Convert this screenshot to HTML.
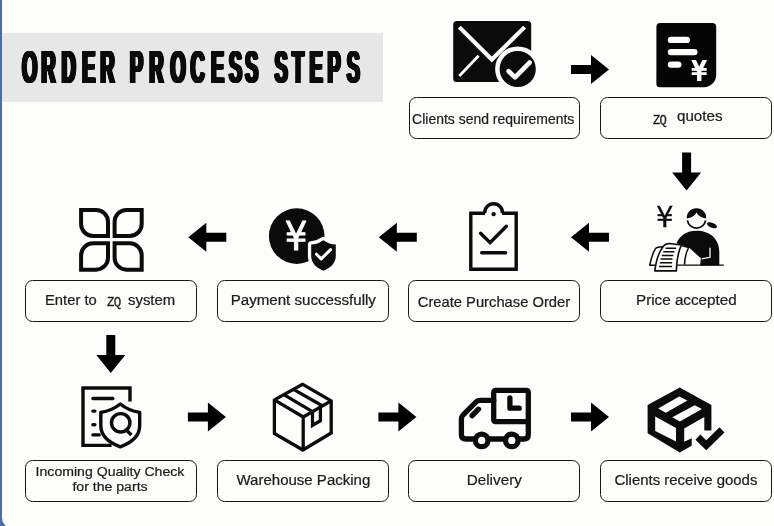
<!DOCTYPE html>
<html lang="en">
<head>
<meta charset="utf-8">
<title>Order Process Steps</title>
<style>
html,body{margin:0;padding:0;}
body{width:774px;height:526px;overflow:hidden;background:#fdfdfb;position:relative;font-family:"Liberation Sans","DejaVu Sans",sans-serif;color:#1c1c1c;}
#stage{will-change:transform;position:absolute;left:0;top:0;width:774px;height:526px;overflow:hidden;background:#4b6ea5;}
#sheet{position:absolute;left:2px;top:-20px;width:773px;height:548px;background:#fdfdfb;border-bottom-left-radius:10px;}
#titlebar{position:absolute;left:2px;top:33px;width:380.5px;height:68.5px;background:#e6e7e6;}
#title{position:absolute;left:19.5px;top:40px;height:54px;line-height:54px;margin:0;font-weight:bold;font-size:47px;white-space:nowrap;color:#0a0a0a;transform-origin:0 50%;transform:scaleX(0.42);word-spacing:-8px;text-shadow:-3.2px 0 0 #0a0a0a,-2.4px 0 0 #0a0a0a,-1.6px 0 0 #0a0a0a,-0.8px 0 0 #0a0a0a,0.8px 0 0 #0a0a0a,1.6px 0 0 #0a0a0a,2.4px 0 0 #0a0a0a,3.2px 0 0 #0a0a0a;}
.box{position:absolute;box-sizing:border-box;width:171px;height:42px;border:1.5px solid #161616;border-radius:7.5px;background:#fdfdfc;display:flex;align-items:center;justify-content:center;text-align:center;font-size:14px;line-height:16px;white-space:nowrap;-webkit-text-stroke:0.22px #1c1c1c;}
.box span.t{display:inline-block;position:relative;top:-1px;transform-origin:50% 50%;}
.zq{font-family:"Liberation Mono","DejaVu Sans Mono",monospace;font-size:13.5px;letter-spacing:-0.8px;-webkit-text-stroke:0.3px #1c1c1c;}
.p{position:absolute;display:block;white-space:nowrap;line-height:16px;transform-origin:0 50%;}
svg{position:absolute;left:0;top:0;}
</style>
</head>
<body>
<div id="stage">
<div id="sheet"></div>
<div id="titlebar"></div>
<h1 id="title" style="left:22px"><span style="letter-spacing:9.4px">O</span><span style="letter-spacing:14.4px">R</span><span style="letter-spacing:15.1px">D</span><span style="letter-spacing:11.7px">E</span><span style="letter-spacing:31.5px">R</span> <span style="letter-spacing:14.8px">P</span><span style="letter-spacing:16.3px">R</span><span style="letter-spacing:11.3px">O</span><span style="letter-spacing:14.8px">C</span><span style="letter-spacing:11.3px">E</span><span style="letter-spacing:7.1px">S</span><span style="letter-spacing:33.8px">S</span> <span style="letter-spacing:10.2px">S</span><span style="letter-spacing:13.2px">T</span><span style="letter-spacing:11.3px">E</span><span style="letter-spacing:14.4px">P</span><span style="letter-spacing:14.0px">S</span></h1>

<div class="box" id="b1" style="left:409px;top:97px;"><span class="t" style="font-size:14.5px;transform:scaleX(0.963);top:0.6px;left:-1.2px;">Clients send requirements</span></div>
<div class="box" id="b2" style="left:600px;top:97px;width:172px;"><span class="p zq" style="left:51.6px;top:14.7px;transform:scaleX(0.9);">ZQ</span> <span class="p" style="left:75.6px;top:10px;transform:scaleX(1.083);">quotes</span></div>

<div class="box" id="b3" style="left:25px;top:280px;width:172px;"><span class="p" style="left:19.1px;top:11.2px;transform:scaleX(1.055);">Enter to</span> <span class="p zq" style="left:80.9px;top:14.1px;transform:scaleX(0.92);">ZQ</span> <span class="p" style="left:102.1px;top:11.2px;transform:scaleX(1.065);">system</span></div>
<div class="box" id="b4" style="left:217px;top:280px;width:172px;"><span class="t" style="transform:scaleX(1.079);">Payment successfully</span></div>
<div class="box" id="b5" style="left:408px;top:280px;width:172px;"><span class="t" style="font-size:14.5px;transform:scaleX(1.017);top:1.1px;">Create Purchase Order</span></div>
<div class="box" id="b6" style="left:600px;top:280px;width:172px;"><span class="t" style="transform:scaleX(1.086);">Price accepted</span></div>

<div class="box" id="b7" style="left:25px;top:460px;width:172px;"><span class="t" style="font-size:12.5px;line-height:15.5px;transform:scaleX(1.127);left:-1.2px;">Incoming Quality Check<br>for the parts</span></div>
<div class="box" id="b8" style="left:217px;top:460px;width:172px;"><span class="t" style="transform:scaleX(1.072);">Warehouse Packing</span></div>
<div class="box" id="b9" style="left:408px;top:460px;width:172px;"><span class="t" style="transform:scaleX(1.09);">Delivery</span></div>
<div class="box" id="b10" style="left:600px;top:460px;width:172px;"><span class="t" style="transform:scaleX(1.068);">Clients receive goods</span></div>

<svg id="art" width="774" height="526" viewBox="0 0 774 526">
<g fill="#000">
<path d="M0 -4.5H20V-14.5L38 0L20 14.5V4.5H0Z" transform="translate(571 69.5)"/>
<path d="M0 -4.5H20V-14.5L38 0L20 14.5V4.5H0Z" transform="translate(686.6 152.5) rotate(90)"/>
<path d="M0 -4.5H20V-14.5L38 0L20 14.5V4.5H0Z" transform="translate(226.3 237.2) rotate(180)"/>
<path d="M0 -4.5H20V-14.5L38 0L20 14.5V4.5H0Z" transform="translate(416.8 237.2) rotate(180)"/>
<path d="M0 -4.5H20V-14.5L38 0L20 14.5V4.5H0Z" transform="translate(609 237.2) rotate(180)"/>
<path d="M0 -4.5H20V-14.5L38 0L20 14.5V4.5H0Z" transform="translate(110.8 335) rotate(90)"/>
<path d="M0 -4.5H20V-14.5L38 0L20 14.5V4.5H0Z" transform="translate(187.9 417.1)"/>
<path d="M0 -4.5H20V-14.5L38 0L20 14.5V4.5H0Z" transform="translate(378.4 417.1)"/>
<path d="M0 -4.5H20V-14.5L38 0L20 14.5V4.5H0Z" transform="translate(571 417.1)"/>
</g>

<!-- 1: mail with check -->
<g id="i-mail">
<rect x="453.2" y="21" width="78" height="61" rx="3.5" fill="#0b0b0b"/>
<path d="M459.3 27.1L491.8 59.5L524.6 27.1" fill="none" stroke="#fdfdfb" stroke-width="4.1" stroke-linejoin="miter"/>
<path d="M459.3 76L478.6 55.7" fill="none" stroke="#fdfdfb" stroke-width="2.8"/>
<circle cx="517.7" cy="69" r="22.6" fill="#fdfdfb"/>
<circle cx="517.7" cy="69" r="18.1" fill="#0b0b0b"/>
<path d="M508.6 71.3L515 77.3L529.6 62.6" fill="none" stroke="#fdfdfb" stroke-width="4.7" stroke-linecap="round" stroke-linejoin="round"/>
</g>
<!-- 2: quote sheet -->
<g id="i-quote">
<path d="M660.4 22.9H712.2A4 4 0 0 1 716.2 26.9V74.7A12.5 12.5 0 0 1 703.7 87.2H659.9A3.5 3.5 0 0 1 656.4 83.7V26.9A4 4 0 0 1 660.4 22.9Z" fill="#050505"/>
<rect x="667.8" y="36.7" width="22.1" height="6.4" rx="3.2" fill="#fdfdfb"/>
<rect x="667.8" y="48.9" width="29.7" height="6.4" rx="3.2" fill="#fdfdfb"/>
<rect x="667.8" y="61.4" width="13.7" height="6.4" rx="3.2" fill="#fdfdfb"/>
<text x="699.2" y="80.7" font-family="DejaVu Sans, Liberation Sans, sans-serif" font-weight="bold" font-size="28" text-anchor="middle" fill="#fdfdfb" transform="translate(699.2 0) scale(0.84 1) translate(-699.2 0)">¥</text>
</g>

<!-- 3: person accepting price -->
<g id="i-price">
<text x="664.8" y="226.9" font-family="DejaVu Sans, Liberation Sans, sans-serif" font-size="28.7" text-anchor="middle" fill="#0b0b0b" stroke="#0b0b0b" stroke-width="0.35" transform="translate(664.8 0) scale(0.96 1) translate(-664.8 0)">¥</text>
<path d="M676.4 243.2C680 235.5 686.5 230.7 696.5 230.7C709.5 230.7 719.3 238.5 719.3 252V265.4H700.2L700.8 258.3L689 247.6Z" fill="#0b0b0b"/>
<path d="M710 247.8V257.3L701.6 258.8" fill="none" stroke="#fdfdfb" stroke-width="1.3"/>
<path d="M676 265.2H723.8" fill="none" stroke="#0b0b0b" stroke-width="1.3"/>
<path d="M687.4 220.3A9.2 9.2 0 0 0 705.6 220.3" fill="none" stroke="#0b0b0b" stroke-width="1.7"/>
<path d="M686.8 218.4C686.5 212.5 690.6 208.2 696.5 208.2C702.4 208.2 706.5 212.5 706.2 218.4C701.5 217.6 698 215.6 696.5 212.4C695 215.6 691.5 217.6 686.8 218.4Z" fill="#0b0b0b"/>
<ellipse cx="712" cy="225.3" rx="5.3" ry="2.5" transform="rotate(22 712 225.3)" fill="#0b0b0b"/>
<path d="M649.7 265.2C651 259 653 252.5 655.5 248.6C656.6 247.2 658 246.9 662.5 246.8L660 265.2Z" fill="#fdfdfb" stroke="#0b0b0b" stroke-width="1.5" stroke-linejoin="round"/>
<path d="M678 244.6L688.6 247.5C686 252.5 684.8 258.5 684.5 264.6" fill="none" stroke="#0b0b0b" stroke-width="1.5"/>
<path d="M654.8 270.9C656 262 659 251.5 663.2 246.4C665 244.2 667 243.5 669 243.5L681.3 245C678.5 251.5 676.6 259 676.3 270.9Z" fill="#fdfdfb" stroke="#0b0b0b" stroke-width="1.6" stroke-linejoin="round"/>
<path d="M665.6 248.2H676M663.3 251.8H674.5M661.8 255.5H673.3M660.6 259H672.5M659.8 262.7H672.1M659.1 266.4H672.1" fill="none" stroke="#0b0b0b" stroke-width="1.5"/>
</g>
<!-- 4: clipboard -->
<g id="i-clip" fill="none" stroke="#0b0b0b" stroke-width="3.4">
<path d="M485 213.3H470.8V269.2H516.2V213.3H502.2" stroke-linejoin="miter" stroke-linecap="butt"/>
<path d="M484.73 213.4A8.9 8.9 0 1 1 502.47 213.4"/>
<circle cx="493.6" cy="214.1" r="2.2" fill="#0b0b0b" stroke="none"/>
<path d="M480.6 233.2L490.1 242.6L506.4 226.2" stroke-linecap="round" stroke-linejoin="miter"/>
<path d="M481.7 252.8H505.6" stroke-linecap="round"/>
</g>
<!-- 5: payment -->
<g id="i-pay">
<circle cx="296.7" cy="236.1" r="27.8" fill="#0b0b0b"/>
<text x="296.2" y="250.2" font-family="DejaVu Sans, Liberation Sans, sans-serif" font-size="39.6" text-anchor="middle" fill="#fdfdfb" stroke="#fdfdfb" stroke-width="0.9" stroke-linejoin="round" transform="translate(296.2 0) scale(0.9 1) translate(-296.2 0)">¥</text>
<path d="M323.3 240.2C319.5 243 315.5 244.3 311.2 244.6V256C311.2 263 316.5 267.8 323.5 270.8C330.5 267.8 335.8 263 335.8 256V244.6C331.5 244.3 327.2 243 323.3 240.2Z" fill="#0b0b0b" stroke="#fdfdfb" stroke-width="6.6" stroke-linejoin="round" paint-order="stroke"/>
<path d="M316.4 254.2L321.2 258.9L330.6 249.6" fill="none" stroke="#fdfdfb" stroke-width="3" stroke-linecap="round" stroke-linejoin="round"/>
</g>
<!-- 6: system grid -->
<g id="i-grid" fill="none" stroke="#0b0b0b" stroke-width="4" stroke-linejoin="miter">
<path d="M81.1 209.9H96A12 12 0 0 1 108 221.9V236H93.1A12 12 0 0 1 81.1 224Z"/>
<path d="M141.7 209.9H126.6A12 12 0 0 0 114.6 221.9V236H129.7A12 12 0 0 0 141.7 224Z"/>
<path d="M108 243.3H93.1A12 12 0 0 0 81.1 255.3V269.7H96A12 12 0 0 0 108 257.7Z"/>
<path d="M114.6 243.3H129.7A12 12 0 0 1 141.7 255.3V269.7H126.6A12 12 0 0 1 114.6 257.7Z"/>
</g>

<!-- 7: incoming quality check -->
<g id="i-qc" fill="none" stroke="#0b0b0b" stroke-width="3.4">
<path d="M130 401.6V388H83V445.4H111.6" stroke-linejoin="miter"/>
<path d="M92.9 398.5H112.8" stroke-linecap="round"/>
<path d="M92.9 411.1H94.9M92.9 424.7H94.9M92.9 434.9H99.2" stroke-linecap="round"/>
<path d="M120.3 404C114.5 408.6 108 411.4 100.8 412.4V425.5C100.8 435.5 108.5 442.5 120.3 446.9C132 442.5 139.7 435.5 139.7 425.5V412.4C132.5 411.4 126 408.6 120.3 404Z" stroke-linejoin="round"/>
<circle cx="120.7" cy="422.8" r="9.2"/>
<path d="M126.6 430.2L131.4 435"/>
</g>
<!-- 8: warehouse box -->
<g id="i-box" fill="none" stroke="#0b0b0b" stroke-width="3.3" stroke-linejoin="miter">
<path d="M302.7 384.3L274.4 399.9V433.5L302.9 450L331.2 433V400.9Z"/>
<path d="M274.4 399.9L303.2 417L331.2 400.9M303.2 417V450"/>
<path d="M283.8 394.7L312.5 411.6V425.3L320.4 420.8V407"/>
<path d="M293.5 389.4L322.3 405.8"/>
</g>
<!-- 9: delivery truck -->
<g id="i-truck" fill="none" stroke="#0b0b0b" stroke-width="5.3" stroke-linejoin="round" stroke-linecap="round">
<rect x="493.7" y="390.4" width="34.6" height="31.2" rx="1.8"/>
<path d="M509.9 397.8V408.2H519.2"/>
<path d="M493.7 400.4H480Q477.6 400.4 475.9 402.1L463.2 414.8Q461.4 416.6 461.4 419V434.4Q461.4 439 466 439H474.6"/>
<path d="M528.3 421.6V434.4Q528.3 439 523.7 439H519"/>
<path d="M488.6 439H505"/>
<path d="M472.1 415.7L478.5 409.2"/>
<circle cx="481.7" cy="440.4" r="6.3"/>
<circle cx="511.8" cy="440.4" r="6.3"/>
</g>
<!-- 10: goods received -->
<g id="i-recv">
<path d="M679.8 387.6L711.4 405.1V430.5H704.3V416.9L684.2 428.4V441.7L691.7 438.2V445.8L679.8 452.6L647.6 433.2V405.1Z" fill="#0b0b0b"/>
<path d="M658.2 408.6L679.2 396.5L687.4 400.6L665.8 412.8Z" fill="#fdfdfb"/>
<path d="M672.3 417.3L694.8 405.2L701.9 409.1L679.9 421.6Z" fill="#fdfdfb"/>
<path d="M655.2 416.5L676 427.9V441.6L655.2 430.9Z" fill="#fdfdfb"/>
<path d="M697.9 437.1L706.3 445.3L722 429.9" fill="none" stroke="#0b0b0b" stroke-width="7.1" stroke-linejoin="miter" stroke-linecap="butt"/>
</g>
</svg>
</div>
</body>
</html>
